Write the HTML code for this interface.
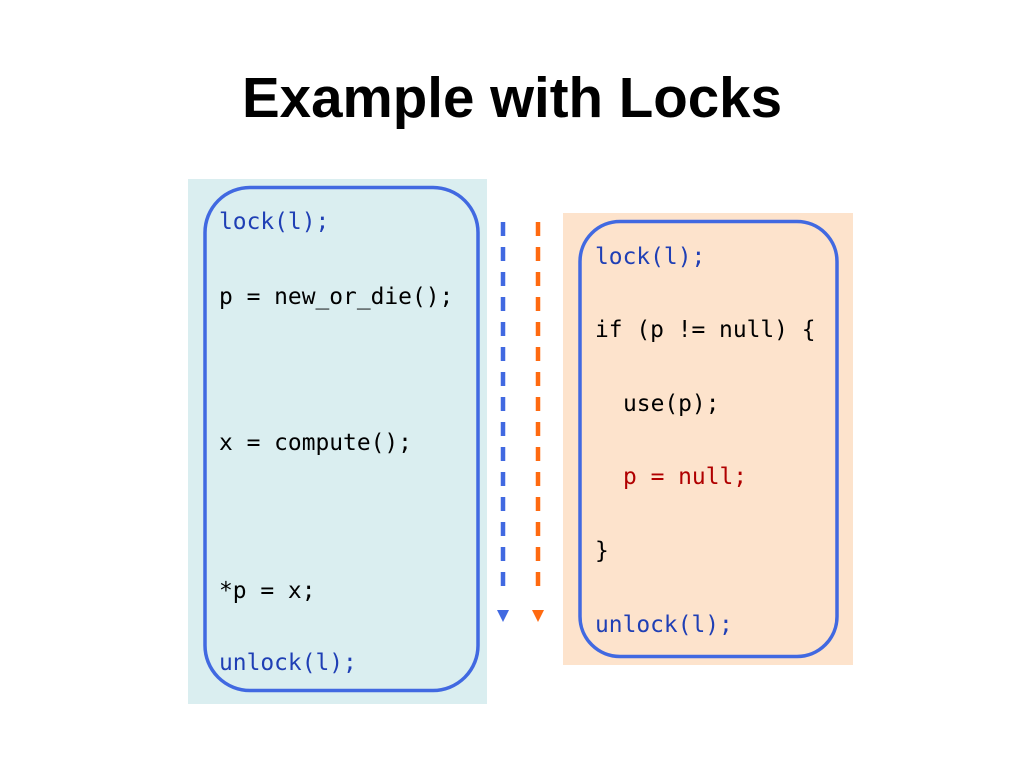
<!DOCTYPE html>
<html><head><meta charset="utf-8"><style>
html,body{margin:0;padding:0;background:#fff;}
svg{display:block}
.m{font-family:"DejaVu Sans Mono","Liberation Mono",monospace;font-size:22.9px;}
</style></head><body>
<svg width="1024" height="768" viewBox="0 0 1024 768">
<text x="512" y="117" text-anchor="middle" font-family="Liberation Sans, sans-serif" font-weight="bold" font-size="56.5" fill="#000">Example with Locks</text>
<rect x="188" y="179" width="299" height="525" fill="#daeef0"/>
<rect x="205" y="187.5" width="273" height="503" rx="45" fill="none" stroke="#4169e1" stroke-width="3.5"/>
<rect x="563" y="213" width="290" height="452" fill="#fde3cc"/>
<rect x="580" y="221.5" width="257" height="435" rx="40" fill="none" stroke="#4169e1" stroke-width="3.5"/>
<line x1="503" y1="222" x2="503" y2="596" stroke="#4169e1" stroke-width="4.5" stroke-dasharray="14,11"/>
<polygon points="497,610 509,610 503,622" fill="#4169e1"/>
<line x1="538" y1="222" x2="538" y2="596" stroke="#ff6a10" stroke-width="4.5" stroke-dasharray="14,11"/>
<polygon points="532,610 544,610 538,622" fill="#ff6a10"/>
<g class="m">
<text x="219" y="229" fill="#1f3fb5">lock(l);</text>
<text x="219" y="304" fill="#000">p = new_or_die();</text>
<text x="219" y="450" fill="#000">x = compute();</text>
<text x="219" y="598" fill="#000">*p = x;</text>
<text x="219" y="670" fill="#1f3fb5">unlock(l);</text>
<text x="595" y="264" fill="#1f3fb5">lock(l);</text>
<text x="595" y="337" fill="#000">if (p != null) {</text>
<text x="623" y="411" fill="#000">use(p);</text>
<text x="623" y="484" fill="#b00000">p = null;</text>
<text x="595" y="558" fill="#000">}</text>
<text x="595" y="632" fill="#1f3fb5">unlock(l);</text>
</g>
</svg>
</body></html>
